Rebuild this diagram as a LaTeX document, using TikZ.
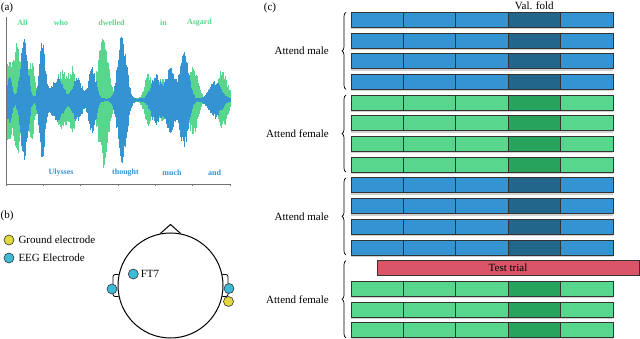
\documentclass[tikz,border=0pt]{standalone}
\usepackage{fontspec}
\setmainfont{Liberation Serif}
\usetikzlibrary{positioning,decorations.pathreplacing}

\definecolor{malebl}{HTML}{3494D1}
\definecolor{maledk}{HTML}{22668C}
\definecolor{femgr}{HTML}{58D68D}
\definecolor{femdk}{HTML}{28A35E}
\definecolor{testred}{HTML}{D95567}
\definecolor{gndyel}{HTML}{E3D93A}
\definecolor{eegcy}{HTML}{3EBAD8}

\begin{document}
\begin{tikzpicture}[x=1pt, y=-1pt,
    seg/.style={draw=black!80, line width=0.8pt, minimum width=52.4pt, minimum height=15pt, inner sep=0pt, outer sep=0pt},
    lbl/.style={font=\fontsize{11}{13}\selectfont, inner sep=1pt},
    word/.style={font=\fontsize{8}{9}\selectfont\bfseries, inner sep=0pt},
    elec/.style={circle, draw=black!80, line width=0.6pt, minimum size=10pt, inner sep=0pt},
    grp/.style={decorate, decoration={brace, amplitude=4pt}, line width=0.7pt},
    axis/.style={draw=black!55, line width=0.8pt},
    declare function={
      bump(\t,\c,\w,\a)=\a*exp(-((\t-\c)/\w)*((\t-\c)/\w));
      genv(\t)=bump(\t,8,4,40)+bump(\t,17,5,58)+bump(\t,31,5,38)+bump(\t,62,10,28)
        +bump(\t,73,4,24)+bump(\t,103,7,66)+bump(\t,148,5,24)+bump(\t,162,8,20)
        +bump(\t,193,6,34)+bump(\t,222,7,28)+2;
      benv(\t)=bump(\t,9,4,22)+bump(\t,24,5,62)+bump(\t,42,4,60)+bump(\t,57,8,22)
        +bump(\t,77,6,22)+bump(\t,92,5,32)+bump(\t,122,6,64)+bump(\t,156,7,24)
        +bump(\t,170,6,32)+bump(\t,184,6,48)+bump(\t,215,8,18)+1.5;
    }]
\useasboundingbox (0,0) rectangle (640,339);

% (a) waveform
\node[lbl] (la) at (7,8) {(a)};
\pgfmathsetseed{11}
\foreach \x in {7,7.4,...,230} {
  \pgfmathsetmacro\up{genv(\x)*(0.65+0.35*rnd)}
  \pgfmathsetmacro\dn{genv(\x)*(0.65+0.35*rnd)}
  \draw[femgr, line width=0.5pt] (\x,100-\up) -- (\x,100+\dn);
}
\foreach \x in {7,7.4,...,230} {
  \pgfmathsetmacro\up{benv(\x)*(0.65+0.35*rnd)}
  \pgfmathsetmacro\dn{benv(\x)*(0.65+0.35*rnd)}
  \draw[malebl, line width=0.5pt] (\x,100-\up) -- (\x,100+\dn);
}
\draw[axis] (6,17) -- (6,184) -- (230,184);
\foreach \k in {0,...,6}
  \draw[axis] (6+37.33*\k,184) -- ++(0,2.5);

\node[word, text=femgr] (wall) at (22.5,23) {All};
\node[word, text=femgr] (wwho) at (61,23) {who};
\node[word, text=femgr] (wdwelled) at (111.5,23) {dwelled};
\node[word, text=femgr] (win) at (163.5,23) {in};
\node[word, text=femgr] (wasgard) at (199.5,23) {Asgard};
\node[word, text=malebl] (wulysses) at (61,173) {Ulysses};
\node[word, text=malebl] (wthought) at (125.5,173) {thought};
\node[word, text=malebl] (wmuch) at (172,173) {much};
\node[word, text=malebl] (wand) at (214.5,173) {and};

% (b) electrodes
\node[lbl] (lb) at (7,216) {(b)};
\node[elec, fill=gndyel] (gnd) at (9,240) {};
\node[lbl, right=3pt of gnd] (gndtxt) {Ground electrode};
\node[elec, fill=eegcy] (eeg) at (9,258) {};
\node[lbl, right=3pt of eeg] (eegtxt) {EEG Electrode};

\node[circle, draw, line width=1pt, minimum size=105pt, inner sep=0pt] (head) at (170.5,285.5) {};
\coordinate (nose) at (170.5,224.5);
\draw[line width=1pt] (head.101) -- (nose) -- (head.79);
\draw[line width=0.8pt, rounded corners=2pt] (head.168) -- (113,274.6) -- (113,296.4) -- (head.192);
\draw[line width=0.8pt, rounded corners=2pt] (head.12) -- (228,274.6) -- (228,296.4) -- (head.-12);
\node[elec, fill=eegcy] (ft7) at (133.3,274) {};
\node[lbl, right=1pt of ft7] (ft7txt) {FT7};
\node[elec, fill=eegcy] (earl) at (112,289) {};
\node[elec, fill=eegcy] (earr) at (229,288.5) {};
\node[elec, fill=gndyel] (gndr) at (228.5,301.5) {};

% (c) cross-validation folds
\node[lbl] (lc) at (270,8) {(c)};
\node[lbl] (val) at (534.3,5.5) {Val. fold};
\foreach \i/\lt/\dk in {0/malebl/maledk,1/malebl/maledk,2/malebl/maledk,3/malebl/maledk,
    4/femgr/femdk,5/femgr/femdk,6/femgr/femdk,7/femgr/femdk,
    8/malebl/maledk,9/malebl/maledk,10/malebl/maledk,11/malebl/maledk,
    13/femgr/femdk,14/femgr/femdk,15/femgr/femdk} {
  \fill[black!18] (351,12.3+20.7*\i+15) rectangle (613.4,12.3+20.7*\i+17);
  \foreach \j in {0,...,4} {
    \ifnum\j=3 \def\fc{\dk}\else\def\fc{\lt}\fi
    \node[seg, fill=\fc] (r\i-\j) at (377.2+52.4*\j,19.8+20.7*\i) {};
  }
}
\node[seg, fill=testred, minimum width=262pt, font=\fontsize{11}{13}\selectfont] (test) at (508,268.2) {Test trial};

\coordinate (g4top) at (346,260.7);
\draw[grp] ([xshift=-5pt]r3-0.south west) -- ([xshift=-5pt]r0-0.north west);
\draw[grp] ([xshift=-5pt]r7-0.south west) -- ([xshift=-5pt]r4-0.north west);
\draw[grp] ([xshift=-5pt]r11-0.south west) -- ([xshift=-5pt]r8-0.north west);
\draw[grp] ([xshift=-5pt]r15-0.south west) -- (g4top);
\node[lbl, anchor=east] (g1) at (330,50.7) {Attend male};
\node[lbl, anchor=east] (g2) at (330,133.6) {Attend female};
\node[lbl, anchor=east] (g3) at (330,216.4) {Attend male};
\node[lbl, anchor=east] (g4) at (330,299.2) {Attend female};
\end{tikzpicture}
\end{document}
